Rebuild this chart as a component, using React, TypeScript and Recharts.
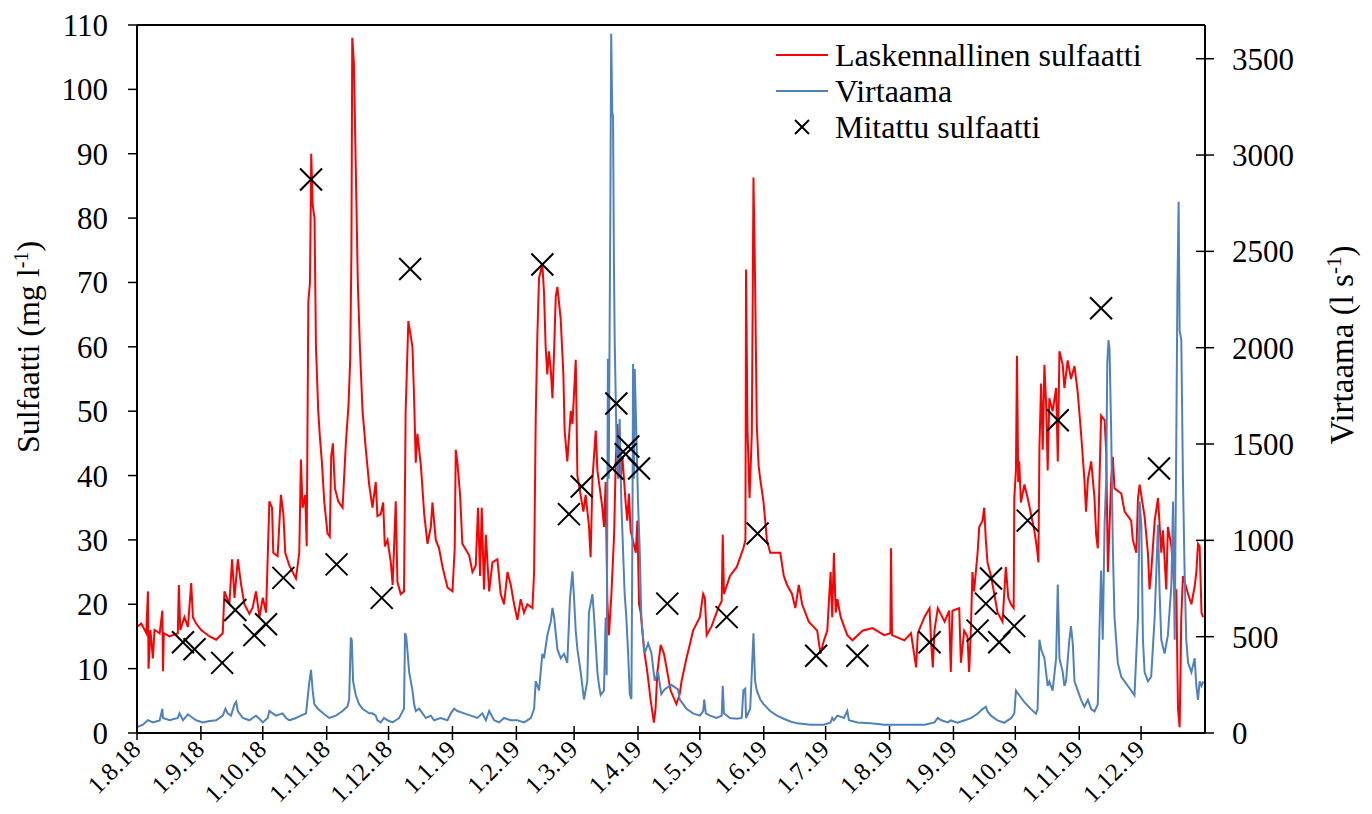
import React from 'react';
import { ComposedChart, Line, Scatter, XAxis, YAxis, ReferenceLine } from 'recharts';

const FONT = '"Liberation Serif", "Times New Roman", serif';
const RED = '#FF0000';
const BLUE = '#4F81BD';

// day index from 1.8.2018
const monthTickDays = [0, 31, 61, 92, 122, 153, 184, 212, 243, 273, 304, 334, 365, 396, 426, 457, 487];
const monthTickLabels = ['1.8.18', '1.9.18', '1.10.18', '1.11.18', '1.12.18', '1.1.19', '1.2.19', '1.3.19', '1.4.19', '1.5.19', '1.6.19', '1.7.19', '1.8.19', '1.9.19', '1.10.19', '1.11.19', '1.12.19'];
const sulfateTicks = [0, 10, 20, 30, 40, 50, 60, 70, 80, 90, 100, 110];
const flowTicks = [0, 500, 1000, 1500, 2000, 2500, 3000, 3500];

// Laskennallinen sulfaatti [day, mg/l]
const calculatedSulfate: [number, number][] = [
  [0, 16.5], [2.1, 17], [4.5, 15.5], [5.3, 22], [5.6, 10], [6.5, 16], [7.7, 11.6], [8.5, 16], [11, 15.5], [12.3, 19], [12.6, 9.6], [13, 15.5],
  [15.8, 15], [19.8, 15.5], [20.3, 23], [21, 16], [23, 18], [24.7, 16.5], [26.3, 23.3], [27.1, 18], [28.7, 17], [31.1, 16], [35.2, 15], [38.4, 14.5],
  [41.6, 15.5], [42.4, 22], [44.8, 20], [46.1, 27], [47.3, 21], [48.9, 27], [50.5, 23], [52.1, 20], [54.5, 18.5], [56.1, 19.5], [57.7, 22], [59.4, 18],
  [61, 21], [62.6, 18.7], [64.2, 36], [65.5, 35], [66.1, 28], [68.2, 27.5], [69.8, 37], [71, 34], [71.9, 28], [73.9, 26], [77.1, 24], [78.7, 28],
  [79.5, 42.5], [80.3, 35], [81.6, 37], [82.3, 29], [83.1, 67], [83.9, 70], [84.5, 90], [85.2, 82], [86.1, 80], [86.8, 60], [87.9, 50], [88.7, 46],
  [89.7, 42], [90.8, 36], [92.4, 31], [93.5, 30.5], [94.2, 43], [95, 45], [96, 38], [97.6, 36], [99.7, 35], [101.3, 45], [102.6, 51], [103.4, 58],
  [104, 75], [104.4, 108], [105.2, 104], [106.1, 88], [107.1, 70], [108.1, 60], [109.4, 50], [111, 44], [112.6, 38.6], [114.2, 35], [115.8, 39],
  [116.6, 33.7], [118.2, 34], [119.4, 35.8], [120.2, 29], [121.5, 30], [123.1, 26.5], [124, 23], [125.5, 36], [126.3, 23.5], [127.9, 21.6], [129.5, 22],
  [130.3, 50], [131.6, 64], [133.6, 60], [134.4, 52], [135.2, 42], [136, 46.5], [137.7, 41.5], [139.3, 34], [140.9, 29.4], [142.5, 32], [143.3, 35.8],
  [144.9, 30], [146.5, 28.7], [148.2, 25.8], [150.6, 22.6], [153, 22], [154.1, 28.7], [154.6, 44], [155.4, 42], [156.7, 37], [157.8, 29.4], [161.1, 27.6],
  [162.7, 25], [164.3, 26], [165.4, 35], [166.4, 24.4], [167.2, 35], [168.3, 22.3], [169.2, 30.8], [170.8, 22], [172.4, 26.5], [174.8, 27], [176.4, 21.6],
  [178, 20], [179.7, 25], [181.3, 23], [182.9, 20], [184.5, 17.6], [186.1, 20.8], [187.7, 18.7], [189.3, 20], [191.8, 19.4], [192.6, 25], [193.4, 49.3],
  [194.2, 62], [195, 70.7], [196.6, 72.8], [197.4, 68.5], [198.2, 60], [199, 55.7], [199.8, 59.3], [200.7, 56.4], [201.5, 52], [202.3, 59.3], [203.1, 67.8],
  [203.9, 69.3], [205.5, 64.3], [206.8, 55.7], [207.4, 47], [208.7, 42.2], [210.4, 50], [211.2, 48], [212.8, 58], [213.6, 40], [216.5, 34.4], [217.6, 37],
  [219.2, 32.2], [220, 27.3], [220.9, 39.4], [222.5, 47], [223.3, 40.8], [225.7, 35], [226.5, 32], [227.3, 39], [228.1, 20.8], [228.9, 15.2], [230.1, 21.6],
  [231.4, 30.8], [232.2, 42.2], [233, 48], [234.6, 39.4], [235.4, 43], [237, 35.8], [237.8, 33], [238.6, 37.2], [239.4, 31.5], [241.9, 28], [242.7, 33],
  [243.5, 20], [244.3, 18.7], [245.9, 13], [247.5, 9.5], [249.1, 5.2], [250.7, 1.6], [251.5, 3.8], [252.4, 9.5], [254, 13.7], [255.6, 12.3], [257.2, 9.5],
  [258.8, 6.6], [261.6, 4.5], [263.2, 6], [264.1, 8], [266.5, 11.6], [268.1, 13.7], [269.7, 15.9], [273, 18], [274.6, 21.6], [275.4, 21], [276.3, 15.2],
  [278.7, 16.6], [281.9, 19.4], [283.6, 20.5], [284.1, 30.8], [284.7, 21.6], [287.6, 24.4], [290.9, 25.8], [294.1, 28.7], [295.1, 30], [295.4, 72],
  [296.1, 47], [297.1, 36.5], [298.2, 46.5], [299, 86.3], [299.8, 70], [300.6, 47.9], [301.5, 41.5], [302.3, 39.4], [303.9, 35.8], [305.5, 30], [307.1, 28],
  [312, 28], [313.7, 24.4], [315.3, 23], [317.7, 21.6], [319.3, 19.4], [321, 23], [322.6, 20], [325.8, 17.3], [329.9, 15.9], [331.5, 12.3], [333.2, 14.4],
  [334.8, 15.9], [336.4, 25], [337.2, 18], [338, 28], [338.9, 18.7], [339.7, 20.8], [341.3, 18], [344.5, 15.2], [347, 14.4], [351.9, 15.9], [356.7, 16.3],
  [362.4, 15.2], [365.4, 15.5], [365.7, 28.7], [366.2, 15.2], [372.2, 14.4], [375.4, 15.5], [377.9, 10.2], [378.7, 15.5], [381.9, 18], [384.4, 19.4],
  [385.2, 14], [386, 10.2], [386.8, 16], [388.4, 19.4], [391.7, 17.3], [393.9, 19], [394.7, 9.5], [395.5, 19], [398.8, 19.4], [399.6, 10.9], [401.2, 15.9],
  [402.8, 15], [403.6, 9.5], [404.4, 15.5], [405.2, 25], [406, 22], [407.7, 28], [408.5, 32], [410.1, 33], [410.9, 35], [411.7, 30], [412.5, 26.5],
  [414.2, 24.4], [415.8, 21.6], [417.4, 18.7], [419.8, 17.3], [421.4, 25.8], [422.6, 21], [423.9, 20], [425.2, 19.4], [425.5, 36.5], [426.3, 40.8],
  [426.8, 58.6], [427.4, 39], [427.9, 42.2], [428.7, 35.8], [430.4, 38.6], [432, 36.5], [435.2, 31.5], [436.5, 28.7], [437.2, 26.5], [437.7, 44.3],
  [438.5, 54.3], [439.3, 44], [440.1, 57.2], [440.9, 51.5], [441.7, 40.8], [442.5, 52], [444.1, 50], [445.8, 53.6], [446.6, 42.2], [447.4, 59.3],
  [449, 57.2], [449.8, 53.6], [451.4, 57.9], [453, 55], [454.7, 57], [456.3, 52.8], [457.9, 46.5], [459.5, 39.4], [460.3, 34.4], [461.2, 39.4],
  [462.8, 42.2], [464.4, 36.5], [465.2, 30.8], [466, 28.7], [466.8, 39], [467.6, 49.3], [469.3, 48.6], [470.1, 43.6], [470.9, 25], [472.5, 39.4],
  [473.3, 42.9], [474.1, 38], [477.4, 37.2], [479, 34.4], [482.2, 33], [483, 30], [484.7, 28], [485.5, 36.5], [486.3, 38.6], [488.7, 33.6], [490.3, 28],
  [491.1, 22.3], [491.9, 25], [493.6, 33], [495.2, 36.5], [496.8, 28], [497.6, 31.5], [499.2, 22.3], [500, 32], [501.7, 29], [503.3, 21.6], [504.1, 22],
  [504.9, 3.8], [505.7, 0.9], [506.5, 18], [507.3, 24.4], [509.8, 21.6], [511.4, 20], [513, 22.8], [513.8, 25], [514.6, 29.4], [515.4, 29], [516.3, 18.7],
  [517.1, 18],
];

// Virtaama [day, l/s]
const flow: [number, number][] = [
  [0, 31], [2.9, 43], [5.3, 67], [7.7, 55], [11, 65], [12.3, 126], [12.6, 78], [15.8, 66], [19.8, 78], [20.6, 102], [22.3, 66], [24.7, 97], [27.1, 78],
  [28.7, 66], [31.9, 55], [35.2, 62], [38.4, 66], [41.6, 90], [42.9, 126], [44, 102], [45.6, 90], [47.3, 150], [48.1, 162], [48.9, 114], [51.3, 78],
  [54.5, 66], [57.7, 90], [59.4, 74], [61, 55], [63.4, 78], [64.2, 114], [65.8, 102], [67.4, 90], [70.6, 102], [72.3, 78], [73.9, 66], [77.1, 78],
  [79.5, 90], [82, 102], [83.5, 257], [84.4, 328], [85.2, 221], [86, 150], [87.7, 126], [90.3, 102], [93.2, 78], [96.5, 90], [99.7, 114], [102.1, 138],
  [102.9, 174], [103.7, 495], [104.2, 480], [104.8, 269], [106.1, 197], [107.7, 150], [109.4, 126], [111, 114], [112.6, 102], [114.2, 102], [115.8, 90],
  [116.6, 66], [118.2, 55], [119.8, 78], [121.5, 66], [123.9, 55], [125.5, 66], [127.1, 78], [129.5, 126], [130, 518], [130.6, 500], [132, 316],
  [132.8, 269], [133.6, 221], [134.4, 150], [135.2, 114], [136.8, 126], [138.5, 102], [140.1, 78], [142.5, 90], [144.1, 66], [147.3, 78], [150.6, 66],
  [152.2, 102], [153.8, 126], [155.4, 114], [158.7, 102], [161.9, 90], [165.1, 78], [167.5, 102], [169.2, 66], [170.8, 114], [173.2, 66], [175.6, 55],
  [178, 78], [181.3, 66], [184.5, 66], [187.7, 55], [191, 78], [192.6, 126], [193.4, 269], [195, 221], [196.6, 411], [197.4, 388], [199, 506],
  [200.7, 578], [201.5, 649], [202.3, 602], [203.9, 435], [205.5, 388], [207.1, 411], [208.7, 364], [210, 697], [211.2, 839], [212, 697], [212.8, 530],
  [213.6, 435], [215.2, 316], [216.8, 174], [218.4, 269], [219.2, 625], [220.9, 720], [221.7, 602], [222.5, 459], [223.3, 316], [224.1, 245],
  [224.9, 197], [226.5, 221], [227.3, 600], [227.8, 300], [228.4, 1942], [228.8, 1320], [229.2, 2035], [229.6, 2752], [230, 3630], [230.5, 3224],
  [230.9, 3200], [231.3, 2466], [231.7, 2035], [232.5, 1558], [233.3, 1320], [234.1, 1630], [234.9, 1200], [235.7, 960], [236.5, 727], [237.3, 607],
  [238.2, 415], [239, 202], [239.8, 176], [240.3, 1080], [240.6, 1915], [241, 1320], [241.4, 1890], [242.2, 1558], [243, 1200], [243.8, 960],
  [244.6, 607], [245.5, 488], [246.3, 415], [247.9, 465], [249.5, 415], [251.1, 270], [252.7, 318], [254.3, 202], [255.9, 226], [259.1, 250],
  [262.4, 226], [263.2, 174], [264.9, 150], [266.5, 126], [269.7, 102], [273, 90], [274.6, 114], [275.1, 174], [275.9, 102], [277.9, 90], [281.1, 78],
  [283.6, 90], [284.1, 245], [284.7, 102], [287.6, 78], [290.9, 74], [293.3, 78], [294.1, 221], [295, 230], [295.4, 78], [297.4, 126], [298.2, 316],
  [299, 518], [299.8, 269], [300.6, 221], [302.3, 174], [303.9, 150], [307.1, 114], [310.4, 90], [313.7, 74], [316.9, 60], [320.2, 50], [326.7, 43],
  [333.2, 43], [336.4, 55], [337.2, 78], [338, 66], [339.7, 90], [342.9, 78], [344.5, 114], [345.3, 66], [349.4, 55], [355.9, 50], [362.4, 43],
  [375.4, 43], [382, 43], [386.8, 55], [388.4, 78], [390.1, 66], [393.3, 55], [394.7, 65], [397.9, 53], [401.2, 65], [404.4, 77], [407.7, 100],
  [410.1, 124], [411.7, 136], [412.5, 112], [414.2, 90], [417.4, 65], [420.6, 53], [423.9, 77], [425.5, 100], [426.3, 220], [427.9, 196], [430.4, 160],
  [433.6, 124], [436, 100], [436.8, 124], [437.7, 484], [438.5, 436], [439.3, 412], [440.1, 388], [440.9, 316], [441.7, 244], [442.5, 268], [444.1, 220],
  [445.8, 388], [446.6, 771], [447.4, 388], [449, 316], [449.8, 244], [450.6, 268], [452.2, 484], [453, 555], [453.9, 460], [454.7, 268], [456.3, 220],
  [457.9, 172], [459.5, 136], [461.2, 172], [462.8, 124], [464.4, 112], [466, 148], [466.8, 531], [467.6, 843], [468.4, 484], [469.3, 1082],
  [470.1, 1322], [470.6, 1920], [471.2, 2040], [471.7, 1992], [472.5, 1561], [473.3, 962], [474.1, 603], [474.9, 484], [475.7, 364], [477.4, 292],
  [479, 268], [480.6, 244], [482.2, 220], [483.8, 196], [485.5, 603], [486.3, 1202], [487.1, 1082], [487.9, 484], [488.7, 316], [490.3, 268],
  [491.9, 292], [493.6, 603], [495.2, 1082], [496, 723], [496.8, 484], [498.4, 412], [500, 508], [501.7, 771], [502.5, 1202], [503.3, 484],
  [504.1, 1561], [504.6, 2279], [505.2, 2758], [505.7, 2088], [506.5, 2040], [507.3, 1322], [508.1, 843], [508.9, 484], [509.8, 364], [511.4, 316],
  [513, 388], [513.8, 244], [514.6, 172], [515.4, 268], [516.3, 244], [517.1, 268],
];

// Mitattu sulfaatti [day, mg/l]
const measuredSulfate: [number, number][] = [
  [22.3, 14.1], [27.9, 13], [41.3, 10.9], [47.7, 19.1], [56.9, 15.2], [62.6, 16.9], [71, 24.1], [84.4, 86], [96.8, 26.2], [118.7, 21],
  [132.5, 72.1], [196.6, 72.8], [209.5, 34], [215.7, 38.3], [230.5, 41.1], [232.5, 51.2], [237, 43.3], [238.3, 44.5], [243.5, 41.1],
  [257.2, 20.1], [286, 18], [301, 31], [329.4, 12], [349.4, 12], [384.4, 14.1], [407.7, 15.9], [411.7, 20.1], [414.2, 24], [418.2, 14.1],
  [425.5, 16.6], [432, 33], [446.6, 48.6], [467.6, 66], [495.7, 41.1],
];

const toRows = (pts: [number, number][]) => pts.map(([d, v]) => ({ d, v }));
const redData = toRows(calculatedSulfate);
const blueData = toRows(flow);
const scatterData = toRows(measuredSulfate);

const labelForDay = (d: number) => {
  const i = monthTickDays.indexOf(d);
  return i >= 0 ? monthTickLabels[i] : '';
};

const XTick = (props: any) => {
  const { x, y, payload } = props;
  const tx = x + 5;
  const ty = y + 18;
  return (
    <g>
      <line x1={x} x2={x} y1={y - 7} y2={y + 7} stroke="#000" strokeWidth={1.5} />
      <text x={tx} y={ty} textAnchor="end" fontSize={25} fontFamily={FONT} fill="#000" transform={`rotate(-45 ${tx} ${ty})`}>
        {labelForDay(payload.value)}
      </text>
    </g>
  );
};

const RightTick = (props: any) => {
  const { x, y, payload } = props;
  return (
    <g>
      <line x1={x - 9} x2={x + 9} y1={y} y2={y} stroke="#000" strokeWidth={1.5} />
      <text x={x + 27} y={y} dy="0.35em" textAnchor="start" fontSize={31} fontFamily={FONT} fill="#000">
        {payload.value}
      </text>
    </g>
  );
};

const XMark = (props: any) => {
  const { cx, cy } = props;
  if (cx == null || cy == null) return null;
  const r = 11;
  return (
    <g>
      <line x1={cx - r} y1={cy - r} x2={cx + r} y2={cy + r} stroke="#000" strokeWidth={2} />
      <line x1={cx - r} y1={cy + r} x2={cx + r} y2={cy - r} stroke="#000" strokeWidth={2} />
    </g>
  );
};

const LeftTitle = () => (
  <text x={31} y={339} transform="rotate(-90 31 339)" textAnchor="middle" fontSize={32} fontFamily={FONT} fill="#000">
    Sulfaatti (mg l<tspan baselineShift="super" fontSize={20}>-1</tspan>)
  </text>
);

const RightTitle = () => (
  <text x={1345} y={337} transform="rotate(-90 1345 337)" textAnchor="middle" fontSize={33} fontFamily={FONT} fill="#000">
    Virtaama (l s<tspan baselineShift="super" fontSize={21}>-1</tspan>)
  </text>
);

const legendRows = [
  { kind: 'line', color: RED, text: 'Laskennallinen sulfaatti' },
  { kind: 'line', color: BLUE, text: 'Virtaama' },
  { kind: 'x', color: '#000', text: 'Mitattu sulfaatti' },
];

export default function App() {
  return (
    <div style={{ position: 'relative', width: 1364, height: 806, fontFamily: FONT }}>
      <ComposedChart width={1364} height={806} margin={{ top: 17, right: 0, left: 0, bottom: 0 }}>
        <XAxis
          dataKey="d"
          type="number"
          domain={[0, 518]}
          ticks={monthTickDays}
          interval={0}
          allowDataOverflow
          height={81}
          tickSize={0}
          tickMargin={0}
          tickLine={false}
          axisLine={{ stroke: '#000', strokeWidth: 2 }}
          tick={<XTick />}
        />
        <YAxis
          yAxisId="left"
          type="number"
          domain={[0, 110]}
          ticks={sulfateTicks}
          interval={0}
          width={129}
          tickSize={9}
          tickMargin={20}
          tickLine={{ stroke: '#000', strokeWidth: 1.5 }}
          axisLine={{ stroke: '#000', strokeWidth: 2 }}
          tick={{ fill: '#000', fontSize: 31, fontFamily: FONT }}
          label={<LeftTitle />}
        />
        <YAxis
          yAxisId="right"
          orientation="right"
          type="number"
          domain={[0, 3675]}
          ticks={flowTicks}
          interval={0}
          width={167}
          tickSize={0}
          tickMargin={0}
          tickLine={false}
          axisLine={{ stroke: '#000', strokeWidth: 2 }}
          tick={<RightTick />}
          label={<RightTitle />}
        />
        <ReferenceLine yAxisId="left" y={110} stroke="#000" strokeWidth={2} />
        <Line
          yAxisId="left"
          data={redData}
          dataKey="v"
          type="linear"
          stroke={RED}
          strokeWidth={2}
          dot={false}
          activeDot={false}
          isAnimationActive={false}
        />
        <Line
          yAxisId="right"
          data={blueData}
          dataKey="v"
          type="linear"
          stroke={BLUE}
          strokeWidth={2}
          dot={false}
          activeDot={false}
          isAnimationActive={false}
        />
        <Scatter yAxisId="left" data={scatterData} dataKey="v" shape={<XMark />} isAnimationActive={false} />
      </ComposedChart>
      <div style={{ position: 'absolute', left: 768, top: 29, lineHeight: '36px', fontSize: 32, color: '#000' }}>
        {legendRows.map((r) => (
          <div key={r.text} style={{ display: 'flex', alignItems: 'center', height: 36, whiteSpace: 'nowrap' }}>
            <svg width={52} height={36} style={{ display: 'block' }}>
              {r.kind === 'line' ? (
                <line x1={0} x2={52} y1={18} y2={18} stroke={r.color} strokeWidth={2} />
              ) : (
                <g>
                  <line x1={19} y1={11} x2={33} y2={25} stroke="#000" strokeWidth={2} />
                  <line x1={19} y1={25} x2={33} y2={11} stroke="#000" strokeWidth={2} />
                </g>
              )}
            </svg>
            <span style={{ marginLeft: 7 }}>{r.text}</span>
          </div>
        ))}
      </div>
    </div>
  );
}
